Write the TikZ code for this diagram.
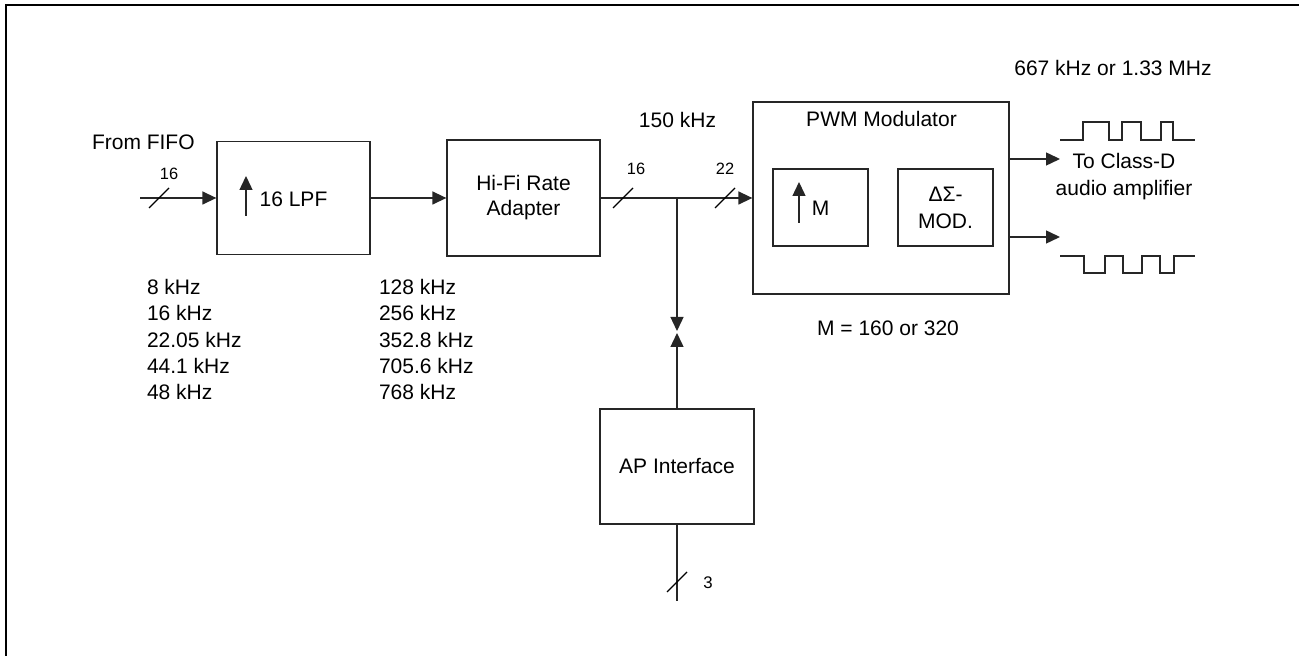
\documentclass[tikz,border=0pt]{standalone}
\usepackage{fontspec}
\setmainfont{Liberation Sans}
\usetikzlibrary{arrows.meta}
\begin{document}
\begin{tikzpicture}[x=0.5pt,y=-0.5pt,
  font=\fontsize{10.5pt}{13pt}\selectfont,
  box/.style={draw=black!85,line width=0.65pt,inner sep=0,rectangle},
  txt/.style={inner sep=0,outer sep=0},
  small/.style={inner sep=0,font=\fontsize{8.2pt}{10pt}\selectfont},
  wire/.style={line width=0.7pt,draw=black!85},
  sig/.style={wire,-{Triangle[length=7pt,width=6.5pt]}},
  slash/.style={line width=0.65pt}]
\useasboundingbox (0,0) rectangle (1299,656);
% frame
\draw[line width=1.25pt] (6,656) -- (6,5) -- (1299,5);

% blocks
\node[box,minimum width=76.5pt,minimum height=56.5pt] (lpf) at (293.5,198) {};
\node[box,minimum width=76.5pt,minimum height=58pt,align=center,
      font=\fontsize{10.5pt}{12.5pt}\selectfont] (hifi) at (523.5,198) {Hi-Fi Rate\\Adapter};
\node[box,minimum width=128pt,minimum height=96pt] (pwm) at (881,198) {};
\node[box,minimum width=47.5pt,minimum height=38.5pt] (mbox) at (820.5,207.5) {};
\node[box,minimum width=47.5pt,minimum height=38.5pt,align=center,
      font=\fontsize{10.5pt}{13.5pt}\selectfont] (ds) at (945.5,207.5) {ΔΣ-\\MOD.};
\node[box,minimum width=77pt,minimum height=57.5pt] (ap) at (677,466.5) {AP Interface};

% texts inside
\node[txt] (lpftxt) at (293.5,199) {16 LPF};
\draw[sig] (246,216) -- (246,176);
\node[txt] (pwmtxt) at (881.5,119) {PWM Modulator};
\node[txt] (mtxt) at (820.5,208) {M};
\draw[sig] (799,223) -- (799,182);

% labels
\node[txt,anchor=west] (fifo) at (92,142) {From FIFO};
\node[txt] (f150) at (677.5,120) {150 kHz};
\node[txt] (f667) at (1113,68) {667 kHz or 1.33 MHz};
\node[txt] (mval) at (888,328) {M = 160 or 320};
\node[txt,align=center,font=\fontsize{10.5pt}{13.5pt}\selectfont] (classd) at (1124,176.5) {To Class-D\\audio amplifier};
\node[txt,align=left,anchor=west,font=\fontsize{10.5pt}{13.1pt}\selectfont] (flist1) at (147,339.5)
  {8 kHz\\16 kHz\\22.05 kHz\\44.1 kHz\\48 kHz};
\node[txt,align=left,anchor=west,font=\fontsize{10.5pt}{13.1pt}\selectfont] (flist2) at (379,339.5)
  {128 kHz\\256 kHz\\352.8 kHz\\705.6 kHz\\768 kHz};
\node[small] (w16a) at (169,174) {16};
\node[small] (w16b) at (636,169) {16};
\node[small] (w22) at (725,169) {22};
\node[small,font=\fontsize{8.4pt}{10pt}\selectfont] (w3) at (708,583) {3};

% connectors
\coordinate (in) at (140,198);
\draw[sig] (in) -- (in -| lpf.west);
\draw[sig] (lpf.east) -- (hifi.west);
\draw[sig] (hifi.east) -- (pwm.west);
\coordinate (j) at (677,198);
\coordinate (tipd) at (677,331);
\coordinate (tipu) at (677,333);
\draw[sig] (j) -- (tipd);
\draw[sig] (ap.north) -- (tipu);
\coordinate (apin) at (677,601);
\draw[wire] (ap.south) -- (apin);
\coordinate (o1) at (1060,159);
\coordinate (o2) at (1060,237);
\draw[sig] (pwm.east |- o1) -- (o1);
\draw[sig] (pwm.east |- o2) -- (o2);

% bus slashes
\draw[slash] (149,208) -- (169,188);
\draw[slash] (613,208) -- (633,188);
\draw[slash] (715,208) -- (735,188);
\draw[slash] (667,592) -- (687,572);

% waveforms
\draw[wire] (1060,140) -- (1083,140) -- (1083,122) -- (1109,122) -- (1109,140) -- (1122,140)
  -- (1122,122) -- (1141,122) -- (1141,140) -- (1161,140) -- (1161,122) -- (1173,122)
  -- (1173,140) -- (1195,140);
\draw[wire] (1060,256) -- (1084,256) -- (1084,273) -- (1105,273) -- (1105,256) -- (1123,256)
  -- (1123,273) -- (1142,273) -- (1142,256) -- (1160,256) -- (1160,273) -- (1174,273)
  -- (1174,256) -- (1195,256);
\end{tikzpicture}
\end{document}
